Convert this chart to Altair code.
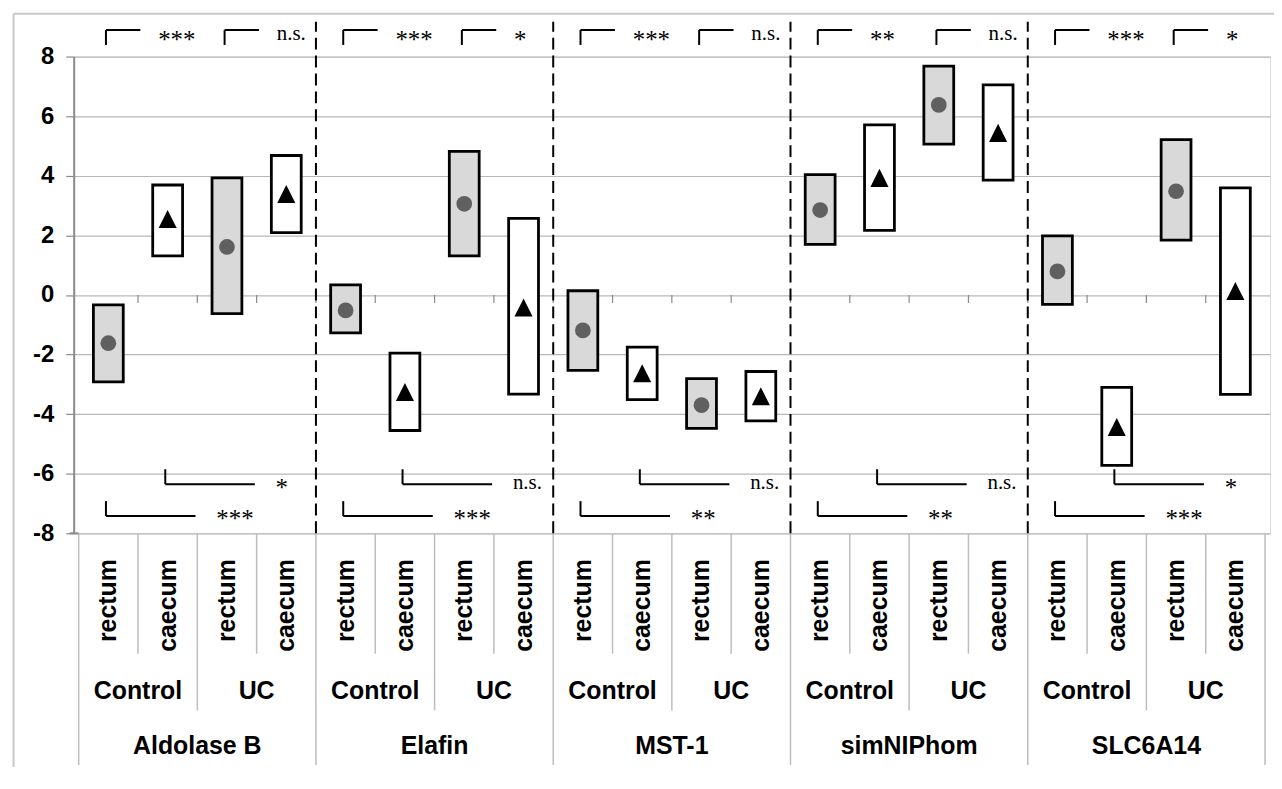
import altair as alt
import pandas as pd

# ---------------- data ----------------
genes = ["Aldolase B", "Elafin", "MST-1", "simNIPhom", "SLC6A14"]
groups = ["Control", "UC"]
tissues = ["rectum", "caecum"]

# order inside every gene: Control rectum, Control caecum, UC rectum, UC caecum
low = [
    [-2.92, 1.31, -0.63, 2.09],
    [-1.27, -4.55, 1.31, -3.33],
    [-2.53, -3.51, -4.48, -4.23],
    [1.70, 2.17, 5.06, 3.85],
    [-0.32, -5.72, 1.84, -3.34],
]
high = [
    [-0.33, 3.69, 3.93, 4.68],
    [0.34, -1.95, 4.82, 2.57],
    [0.14, -1.75, -2.81, -2.57],
    [4.04, 5.71, 7.68, 7.05],
    [1.98, -3.10, 5.21, 3.59],
]
median = [
    [-1.62, 2.55, 1.61, 3.39],
    [-0.52, -3.26, 3.06, -0.42],
    [-1.19, -2.63, -3.70, -3.40],
    [2.85, 3.93, 6.38, 5.44],
    [0.79, -4.43, 3.48, 0.13],
]

# significance labels
top_control = ["***", "***", "***", "**", "***"]    # Control: rectum vs caecum
top_uc = ["n.s.", "*", "n.s.", "n.s.", "*"]          # UC: rectum vs caecum
bottom_rectum = ["***", "***", "**", "**", "***"]   # rectum: Control vs UC
bottom_caecum = ["*", "n.s.", "n.s.", "n.s.", "*"]   # caecum: Control vs UC

y_ticks = [-8, -6, -4, -2, 0, 2, 4, 6, 8]

# ---------------- tables ----------------
rows = []
for g, gene in enumerate(genes):
    for gi, grp in enumerate(groups):
        for ti, tis in enumerate(tissues):
            k = gi * 2 + ti
            rows.append(dict(gene=gene, group=grp, tissue=tis,
                             x=g * 4 + k + 0.5,
                             lo=low[g][k], hi=high[g][k], med=median[g][k]))
df = pd.DataFrame(rows)

n_cat = len(df)
XS = alt.Scale(domain=[0, n_cat], nice=False, zero=False)
YS = alt.Scale(domain=[-8, 8], nice=False, zero=False)
YAXIS = alt.Axis(values=y_ticks, title=None, grid=True, gridColor="#b8b8b8",
                 gridWidth=1.2, domainColor="#8a8a8a", domainWidth=2,
                 tickColor="#8a8a8a", tickSize=8, tickWidth=1.2,
                 labelExpr="datum.value < 0 ? '-' + abs(datum.value) : '' + datum.value",
                 labelFont="Liberation Sans", labelFontWeight="bold",
                 labelFontSize=24, labelColor="black", labelPadding=12)


def X(f):
    return alt.X(f"{f}:Q", scale=XS, axis=None)


def Y(f):
    return alt.Y(f"{f}:Q", scale=YS, axis=YAXIS)


def Y2(f):
    return alt.Y2(f"{f}:Q")


# brackets and significance texts
seg, txt = [], []
for g in range(len(genes)):
    specs = [
        (g * 4 + 0.46, 8.39, 8.89, 0.58, 0.88, 8.72, top_control[g]),
        (g * 4 + 2.46, 8.39, 8.89, 0.58, 0.88, 8.72, top_uc[g]),
        (g * 4 + 1.46, -5.85, -6.35, 1.51, 1.86, -6.33, bottom_caecum[g]),
        (g * 4 + 0.46, -6.92, -7.42, 1.51, 1.86, -7.37, bottom_rectum[g]),
    ]
    for x0, ya, yb, ln, tx, ty, lab in specs:
        seg.append(dict(x=x0, x2=x0, y=ya, y2=yb))
        seg.append(dict(x=x0, x2=x0 + ln, y=yb, y2=yb))
        txt.append(dict(x=x0 + tx, y=ty, label=lab))
seg_df = pd.DataFrame(seg)
txt_df = pd.DataFrame(txt)

# separators of the category axis below the plot
sep = []
for b in range(n_cat + 1):
    if b % 4 == 0:
        yend = -15.78
    elif b % 2 == 0:
        yend = -13.944
    else:
        yend = -12.04
    sep.append(dict(x=b, y=-8, y2=yend))
sep_df = pd.DataFrame(sep)

grp_df = pd.DataFrame([dict(x=g * 4 + gi * 2 + 1, label=grp)
                       for g in range(len(genes)) for gi, grp in enumerate(groups)])
gene_df = pd.DataFrame([dict(x=g * 4 + 2, label=gene) for g, gene in enumerate(genes)])
dash_df = pd.DataFrame([dict(x=b) for b in range(4, n_cat, 4)])
tick_df = pd.DataFrame([dict(x=b) for b in range(1, n_cat)])

BOLD = dict(font="Liberation Sans", fontWeight="bold", fontSize=25, color="black")

# ---------------- layers ----------------
frame_df = pd.DataFrame([
    dict(x=-1.098, x2=20.5, y=9.436, y2=9.436),
    dict(x=-1.098, x2=-1.098, y=9.436, y2=-17.0),
])
frame = alt.Chart(frame_df).mark_rule(color="#c8c8c8", strokeWidth=2).encode(
    x=X("x"), x2="x2:Q", y=Y("y"), y2=Y2("y2"))

zero_ticks = alt.Chart(tick_df).transform_calculate(y0="0", y1="-0.27").mark_rule(
    color="#8a8a8a", strokeWidth=1.2).encode(x=X("x"), y=Y("y0"), y2=Y2("y1"))

boxes = alt.Chart(df).mark_bar(size=30, stroke="black", strokeWidth=2.8).encode(
    x=X("x"), y=Y("lo"), y2=Y2("hi"),
    fill=alt.Fill("tissue:N", scale=alt.Scale(domain=tissues, range=["#d9d9d9", "white"]),
                  legend=None))

circles = alt.Chart(df).transform_filter(alt.datum.tissue == "rectum").mark_point(
    filled=True, shape="circle", size=250, color="#606060", opacity=1).encode(
    x=X("x"), y=Y("med"))

triangles = alt.Chart(df).transform_filter(alt.datum.tissue == "caecum").mark_point(
    filled=True, shape="M-1,1L1,1L0,-1Z", size=330, color="black", opacity=1).encode(
    x=X("x"), y=Y("med"))

dashes = alt.Chart(dash_df).transform_calculate(y0="-8", y1="9.17").mark_rule(
    color="black", strokeWidth=2, strokeDash=[12, 6]).encode(
    x=X("x"), y=Y("y0"), y2=Y2("y1"))

brackets = alt.Chart(seg_df).mark_rule(color="black", strokeWidth=2).encode(
    x=X("x"), x2="x2:Q", y=Y("y"), y2=Y2("y2"))

stars = alt.Chart(txt_df).transform_filter(alt.datum.label != "n.s.").mark_text(
    font="Liberation Serif", fontSize=25, align="left", baseline="alphabetic", dy=13,
    color="black").encode(x=X("x"), y=Y("y"), text="label:N")

ns = alt.Chart(txt_df).transform_filter(alt.datum.label == "n.s.").mark_text(
    font="Liberation Serif", fontSize=21, align="left", baseline="alphabetic", dy=5,
    color="black").encode(x=X("x"), y=Y("y"), text="label:N")

seps = alt.Chart(sep_df).mark_rule(color="#bdbdbd", strokeWidth=1.5).encode(
    x=X("x"), y=Y("y"), y2=Y2("y2"))

bottom_line = alt.Chart(pd.DataFrame([dict(x=-0.15, x2=0, y=-8)])).mark_rule(
    color="#8a8a8a", strokeWidth=2).encode(x=X("x"), x2="x2:Q", y=Y("y"))

tissue_lab = alt.Chart(df).transform_calculate(ty="-8.867").mark_text(
    angle=270, align="right", baseline="middle", **BOLD).encode(
    x=X("x"), y=Y("ty"), text="tissue:N")

group_lab = alt.Chart(grp_df).transform_calculate(ty="-13.31").mark_text(
    align="center", baseline="middle", **BOLD).encode(
    x=X("x"), y=Y("ty"), text="label:N")

gene_lab = alt.Chart(gene_df).transform_calculate(ty="-15.146").mark_text(
    align="center", baseline="middle", **BOLD).encode(
    x=X("x"), y=Y("ty"), text="label:N")

chart = alt.layer(
    frame, zero_ticks, seps, bottom_line, boxes, circles, triangles, dashes,
    brackets, stars, ns, tissue_lab, group_lab, gene_lab
).properties(
    width=1202, height=479,
    autosize=alt.AutoSizeParams(type="none"),
    padding={"left": 66, "top": 47, "right": 4, "bottom": 233},
).configure_view(stroke="#8a8a8a", strokeWidth=2).configure(background="white")

chart.save("out.html", embed_options={"renderer": "svg", "actions": False})
